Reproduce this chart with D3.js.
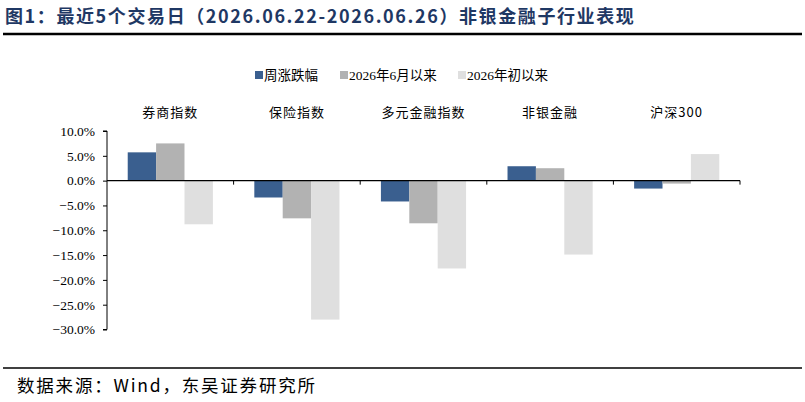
<!DOCTYPE html>
<html><head><meta charset="utf-8">
<script src="https://cdn.jsdelivr.net/npm/d3@7"></script>
<style>
body{margin:0;background:#fff;}
text{font-family:"Liberation Serif","Noto Sans CJK SC",serif;}
</style></head>
<body><svg id="c" width="805" height="402"></svg>
<script>
const categories = ["券商指数","保险指数","多元金融指数","非银金融","沪深300"];
const seriesNames = ["周涨跌幅","2026年6月以来","2026年初以来"];
const weekly = [5.7, -3.4, -4.2, 2.9, -1.6];
const sinceJune = [7.5, -7.6, -8.6, 2.5, -0.6];
const sinceYearStart = [-8.8, -28.0, -17.7, -14.9, 5.35];
const yTicks = [10, 5, 0, -5, -10, -15, -20, -25, -30];
const colors = ["#3A5F8F","#B2B2B2","#DFDFDF"];
const title = "图1：最近5个交易日（2026.06.22-2026.06.26）非银金融子行业表现";
const source = "数据来源：Wind，东吴证券研究所";

const series = [weekly, sinceJune, sinceYearStart];
const svg = d3.select("#c");

// title
svg.append("text").attr("x",5).attr("y",23)
  .attr("font-size",18).attr("font-weight","bold").attr("fill","#1F3864")
  .style("letter-spacing","1.6px")
  .style("font-family","'Noto Sans CJK SC',sans-serif").text(title);
svg.append("line").attr("x1",3).attr("x2",802).attr("y1",34).attr("y2",34)
  .attr("stroke","#000").attr("stroke-width",2.5);
svg.append("line").attr("x1",3).attr("x2",802).attr("y1",368).attr("y2",368)
  .attr("stroke","#000").attr("stroke-width",1.5);
svg.append("text").attr("x",17).attr("y",392).attr("font-size",17.5)
  .style("letter-spacing","1.8px")
  .attr("fill","#000").style("font-family","'Noto Sans CJK SC',sans-serif").text(source);

const left = 107, right = 740;
const x0 = d3.scaleBand().domain(categories).range([left,right]).paddingInner(0).paddingOuter(0);
const x1 = d3.scaleBand().domain(d3.range(3)).range([0,x0.bandwidth()]).paddingOuter(0.73).paddingInner(0);
const y = d3.scaleLinear().domain([-30,10]).range([329.5,131]);

// bars
categories.forEach((c,i)=>{
  series.forEach((s,j)=>{
    const v = s[i];
    svg.append("rect")
      .attr("x", x0(c)+x1(j))
      .attr("width", x1.bandwidth())
      .attr("y", y(Math.max(0,v)))
      .attr("height", Math.abs(y(v)-y(0)))
      .attr("fill", colors[j]);
  });
  svg.append("text").attr("x", x0(c)+x0.bandwidth()/2).attr("y",117)
    .attr("text-anchor","middle").attr("font-size",13).attr("fill","#000")
    .style("letter-spacing","1px")
    .style("font-family","'Noto Sans CJK SC',sans-serif").text(c);
});

// y axis
const yAxis = d3.axisLeft(y).tickValues(yTicks).tickFormat(d=>d3.format(".1f")(d)+"%").tickSize(4).tickPadding(8);
const ga = svg.append("g").attr("transform",`translate(${left},0)`).call(yAxis);
ga.select(".domain").attr("stroke","#000").attr("d",`M-4,${y(10)}H0V${y(-30)}H-4`);
ga.selectAll(".tick line").attr("stroke","#000");
ga.selectAll(".tick text").attr("font-size",13.5).attr("fill","#000")
  .style("font-family","'Liberation Serif',serif");

// x axis at zero
const gx = svg.append("g").attr("transform",`translate(0,${y(0)})`);
gx.append("line").attr("x1",left).attr("x2",right).attr("stroke","#000").attr("stroke-width",1.2);
categories.forEach((c,i)=>{
  const xx = x0(c)+x0.bandwidth();
  gx.append("line").attr("x1",xx).attr("x2",xx).attr("y1",0).attr("y2",4).attr("stroke","#000");
});

// legend
const legendX = [255, 340, 458];
seriesNames.forEach((n,j)=>{
  svg.append("rect").attr("x",legendX[j]).attr("y",71).attr("width",8).attr("height",8).attr("fill",colors[j]);
  svg.append("text").attr("x",legendX[j]+9).attr("y",80).attr("font-size",13.5).attr("fill","#000")
    .style("font-family","'Liberation Serif','Noto Sans CJK SC',serif").text(n);
});
</script></body></html>
